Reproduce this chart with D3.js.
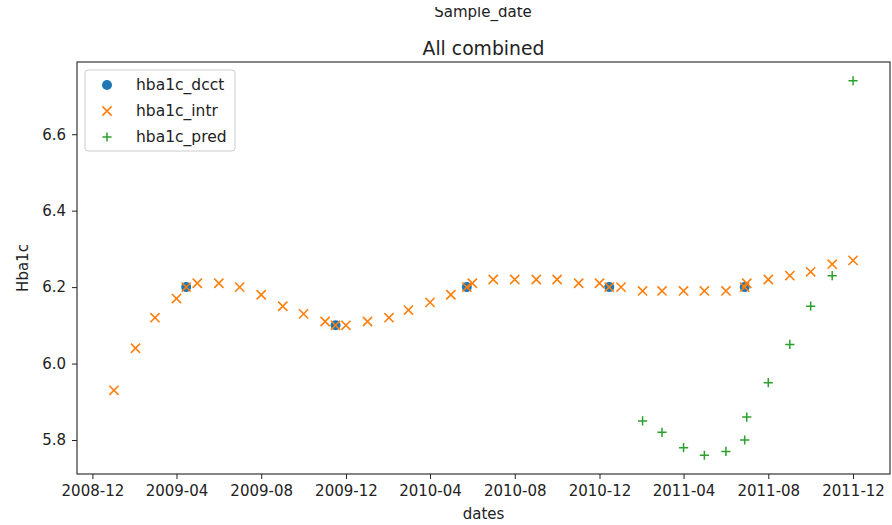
<!DOCTYPE html>
<html>
<head>
<meta charset="utf-8">
<script src="https://cdn.jsdelivr.net/npm/d3@7"></script>
<style>
  body { margin: 0; background: #fff; }
  text { font-family: "DejaVu Sans", sans-serif; fill: #222; }
</style>
</head>
<body>
<svg id="chart" width="892" height="525"></svg>
<script>
// HbA1c measurements (DCCT), interpolated monthly values and predictions
const dcctDates  = ["2009-04-15", "2009-11-16", "2010-05-24", "2010-12-15", "2011-06-28"];
const dcctValues = [6.20, 6.10, 6.20, 6.20, 6.20];

const intrDates = [
  "2009-01-01", "2009-02-01", "2009-03-01", "2009-04-01", "2009-04-15", "2009-05-01",
  "2009-06-01", "2009-07-01", "2009-08-01", "2009-09-01", "2009-10-01", "2009-11-01",
  "2009-11-16", "2009-12-01", "2010-01-01", "2010-02-01", "2010-03-01", "2010-04-01",
  "2010-05-01", "2010-05-24", "2010-06-01", "2010-07-01", "2010-08-01", "2010-09-01",
  "2010-10-01", "2010-11-01", "2010-12-01", "2010-12-15", "2011-01-01", "2011-02-01",
  "2011-03-01", "2011-04-01", "2011-05-01", "2011-06-01", "2011-06-28", "2011-07-01",
  "2011-08-01", "2011-09-01", "2011-10-01", "2011-11-01", "2011-12-01"
];
const intrValues = [
  5.93, 6.04, 6.12, 6.17, 6.20, 6.21,
  6.21, 6.20, 6.18, 6.15, 6.13, 6.11,
  6.10, 6.10, 6.11, 6.12, 6.14, 6.16,
  6.18, 6.20, 6.21, 6.22, 6.22, 6.22,
  6.22, 6.21, 6.21, 6.20, 6.20, 6.19,
  6.19, 6.19, 6.19, 6.19, 6.20, 6.21,
  6.22, 6.23, 6.24, 6.26, 6.27
];

const predDates = [
  "2011-02-01", "2011-03-01", "2011-04-01", "2011-05-01", "2011-06-01", "2011-06-28",
  "2011-07-01", "2011-08-01", "2011-09-01", "2011-10-01", "2011-11-01", "2011-12-01"
];
const predValues = [5.85, 5.82, 5.78, 5.76, 5.77, 5.80, 5.86, 5.95, 6.05, 6.15, 6.23, 6.74];

const xTickLabels = ["2008-12", "2009-04", "2009-08", "2009-12", "2010-04",
                     "2010-08", "2010-12", "2011-04", "2011-08", "2011-12"];
const yTickValues = [5.8, 6.0, 6.2, 6.4, 6.6];

const seriesNames = ["hba1c_dcct", "hba1c_intr", "hba1c_pred"];
const colors = ["#1f77b4", "#ff7f0e", "#2ca02c"];

const parse = d3.utcParse("%Y-%m-%d");
const parseMonth = d3.utcParse("%Y-%m");

const plot = { left: 77, right: 890, top: 62, bottom: 474 };

const svg = d3.select("#chart");

const dcct = dcctDates.map((d, i) => ({ date: parse(d), value: dcctValues[i] }));
const intr = intrDates.map((d, i) => ({ date: parse(d), value: intrValues[i] }));
const pred = predDates.map((d, i) => ({ date: parse(d), value: predValues[i] }));
const all = dcct.concat(intr, pred);

// 5% padding around the data extent on both axes
const [xMin, xMax] = d3.extent(all, d => +d.date);
const xPad = (xMax - xMin) * 0.05;
const [yMin, yMax] = d3.extent(all, d => d.value);
const yPad = (yMax - yMin) * 0.05;

const x = d3.scaleUtc()
  .domain([new Date(xMin - xPad), new Date(xMax + xPad)])
  .range([plot.left, plot.right]);
const y = d3.scaleLinear()
  .domain([yMin - yPad, yMax + yPad])
  .range([plot.bottom, plot.top]);

// Axes
const xAxis = svg.append("g")
  .attr("transform", `translate(0,${plot.bottom})`)
  .call(d3.axisBottom(x)
    .tickValues(xTickLabels.map(parseMonth))
    .tickFormat(d3.utcFormat("%Y-%m"))
    .tickSize(5).tickPadding(6).tickSizeOuter(0));
const yAxis = svg.append("g")
  .attr("transform", `translate(${plot.left},0)`)
  .call(d3.axisLeft(y)
    .tickValues(yTickValues)
    .tickFormat(d3.format(".1f"))
    .tickSize(5).tickPadding(6).tickSizeOuter(0));

[xAxis, yAxis].forEach(g => {
  g.select(".domain").remove();
  g.selectAll(".tick line").attr("stroke", "#222").attr("stroke-width", 1);
  g.selectAll(".tick text").attr("font-size", 15).attr("fill", "#222")
    .style("font-family", "DejaVu Sans, sans-serif");
});

// Frame
svg.append("rect")
  .attr("x", plot.left).attr("y", plot.top)
  .attr("width", plot.right - plot.left).attr("height", plot.bottom - plot.top)
  .attr("fill", "none").attr("stroke", "#222").attr("stroke-width", 1.1);

// Marker shapes
const r = 4.6;
function drawCircles(g, data, color) {
  g.selectAll("circle").data(data).join("circle")
    .attr("cx", d => x(d.date)).attr("cy", d => y(d.value))
    .attr("r", r + 0.4).attr("fill", color);
}
function drawCross(g, data, color) {
  g.selectAll("path").data(data).join("path")
    .attr("d", d => {
      const cx = x(d.date), cy = y(d.value);
      return `M${cx - r},${cy - r}L${cx + r},${cy + r}M${cx - r},${cy + r}L${cx + r},${cy - r}`;
    })
    .attr("stroke", color).attr("stroke-width", 1.6).attr("fill", "none");
}
function drawPlus(g, data, color) {
  g.selectAll("path").data(data).join("path")
    .attr("d", d => {
      const cx = x(d.date), cy = y(d.value);
      return `M${cx - r},${cy}L${cx + r},${cy}M${cx},${cy - r}L${cx},${cy + r}`;
    })
    .attr("stroke", color).attr("stroke-width", 1.5).attr("fill", "none");
}

drawCircles(svg.append("g"), dcct, colors[0]);
drawCross(svg.append("g"), intr, colors[1]);
drawPlus(svg.append("g"), pred, colors[2]);

// Figure title sits partly above the top edge of the canvas
svg.append("clipPath").attr("id", "supclip")
  .append("rect").attr("x", 0).attr("y", 7).attr("width", 892).attr("height", 20);
svg.append("text").attr("x", 483).attr("y", 17).attr("text-anchor", "middle")
  .attr("clip-path", "url(#supclip)")
  .attr("font-size", 15).text("Sample_date");

svg.append("text").attr("x", 483.5).attr("y", 55).attr("text-anchor", "middle")
  .attr("font-size", 18.8).text("All combined");
svg.append("text").attr("x", 483.5).attr("y", 519).attr("text-anchor", "middle")
  .attr("font-size", 15).text("dates");
svg.append("text")
  .attr("transform", `translate(28,${(plot.top + plot.bottom) / 2}) rotate(-90)`)
  .attr("text-anchor", "middle").attr("font-size", 15).text("Hba1c");

// Legend
const legend = svg.append("g");
legend.append("rect")
  .attr("x", 85).attr("y", 70).attr("width", 150).attr("height", 81)
  .attr("rx", 3).attr("fill", "#fff").attr("fill-opacity", 0.8)
  .attr("stroke", "#ccc").attr("stroke-width", 1);
const drawers = [drawCircles, drawCross, drawPlus];
const swatchRef = { date: dcct[0].date, value: 6.2 };
seriesNames.forEach((name, i) => {
  const ly = 85 + i * 26;
  const row = legend.append("g");
  // shift a single marker from its scaled spot onto the legend row
  const g = row.append("g")
    .attr("transform", `translate(${107 - x(swatchRef.date)},${ly - y(swatchRef.value)})`);
  drawers[i](g, [swatchRef], colors[i]);
  row.append("text").attr("x", 136).attr("y", ly).attr("dy", "0.35em")
    .attr("font-size", 15.5).text(name);
});
</script>
</body>
</html>
